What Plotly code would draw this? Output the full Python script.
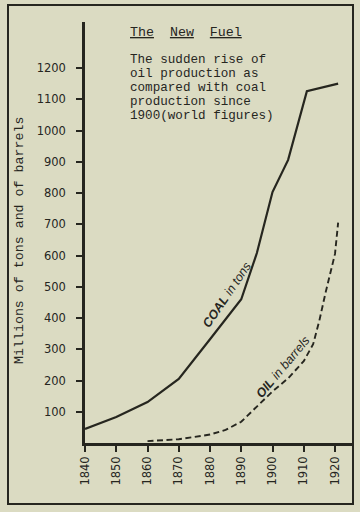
import plotly.graph_objects as go

# ---- data ----
coal_years = [1840, 1850, 1860, 1870, 1880, 1890, 1895, 1900, 1905, 1911, 1921]
coal_values = [45, 83, 131, 205, 332, 460, 608, 803, 906, 1126, 1150]

oil_years = [1860, 1870, 1880, 1885, 1890, 1895, 1900, 1905, 1910, 1913, 1915, 1917, 1919, 1920, 1921]
oil_values = [6, 12, 27, 42, 68, 115, 165, 207, 262, 316, 392, 482, 566, 605, 705]

x_ticks = [1840, 1850, 1860, 1870, 1880, 1890, 1900, 1910, 1920]
y_ticks = [100, 200, 300, 400, 500, 600, 700, 800, 900, 1000, 1100, 1200]

title_text = "<u>The</u>\u00a0\u00a0<u>New</u>\u00a0\u00a0<u>Fuel</u>"
sub_lines = ["The sudden rise of", "oil production as", "compared with coal",
             "production since", "1900(world figures)"]
y_title = "Millions of tons and of barrels"

BG = "#dbdbc2"
INK = "#26261f"
MONO = "Liberation Mono, Courier New, monospace"

fig = go.Figure()
fig.add_trace(go.Scatter(x=coal_years, y=coal_values, mode="lines",
                         line=dict(color=INK, width=2.2), hoverinfo="skip"))
fig.add_trace(go.Scatter(x=oil_years, y=oil_values, mode="lines",
                         line=dict(color=INK, width=1.9, dash="6px,3.5px"), hoverinfo="skip"))

# layout geometry (pixels): plot x 85..352, y 22..443
L, R, T, B = 85, 8, 22, 69
PW, PH = 360 - L - R, 512 - T - B

def px(xp):
    return (xp - L) / PW

def py(yp):
    return (512 - B - yp) / PH

fig.update_layout(
    width=360, height=512,
    margin=dict(l=L, r=R, t=T, b=B),
    paper_bgcolor=BG, plot_bgcolor=BG,
    showlegend=False,
    xaxis=dict(range=[1840, 1840 + PW / 3.125], tickvals=x_ticks,
               ticktext=[str(v) for v in x_ticks], tickangle=-90,
               showgrid=False, zeroline=False, showline=True,
               linecolor=INK, linewidth=2.5, ticks="outside", ticklen=6,
               tickwidth=1.5, tickcolor=INK,
               tickfont=dict(family="DejaVu Sans", size=11.5, color=INK)),
    yaxis=dict(range=[0, PH / 0.3125], tickvals=y_ticks,
               showgrid=False, zeroline=False, showline=True,
               linecolor=INK, linewidth=2.5, ticks="outside", ticklen=6,
               tickwidth=1.5, tickcolor=INK, ticklabelstandoff=8,
               tickfont=dict(family="DejaVu Sans", size=11.5, color=INK)),
)

# outer frame
fig.add_shape(type="rect", xref="paper", yref="paper",
              x0=px(8), x1=px(353), y0=py(504), y1=py(5),
              line=dict(color=INK, width=2))

# title & description
fig.add_annotation(text=title_text, xref="paper", yref="paper",
                   x=px(128), y=py(33), xanchor="left", yanchor="middle",
                   showarrow=False, font=dict(family=MONO, size=13.3, color=INK))
for i, line in enumerate(sub_lines):
    fig.add_annotation(text=line, xref="paper", yref="paper",
                       x=px(128), y=py(60 + i * 13.9), xanchor="left", yanchor="middle",
                       showarrow=False, font=dict(family=MONO, size=12.6, color=INK))

# y axis title
fig.add_annotation(text=y_title, xref="paper", yref="paper",
                   x=px(20), y=py(241), textangle=-90, showarrow=False,
                   xanchor="center", yanchor="middle",
                   font=dict(family=MONO, size=13.3, color=INK))

# series labels
fig.add_annotation(text="<i><b>COAL</b> in tons</i>", x=1885.4, y=474, textangle=-56,
                   showarrow=False, font=dict(family="Liberation Sans", size=12.5, color=INK))
fig.add_annotation(text="<i><b>OIL</b> in barrels</i>", x=1903.4, y=243, textangle=-50,
                   showarrow=False, font=dict(family="Liberation Sans", size=12.5, color=INK))

fig.write_html("out.html", config={"displayModeBar": False},
               post_script="document.body.style.margin='0';")
